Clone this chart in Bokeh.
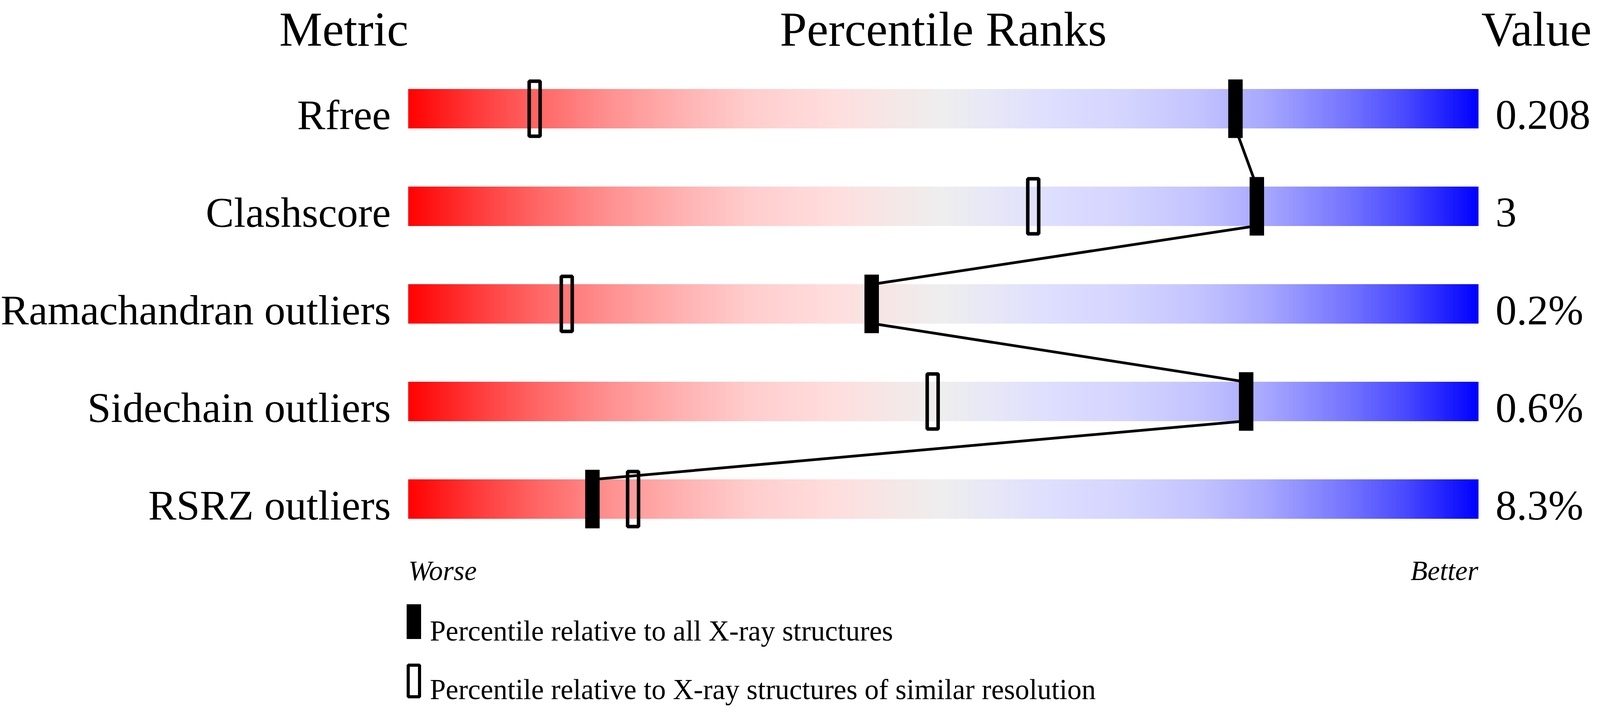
from bokeh.plotting import figure
from bokeh.models import Range1d
from bokeh.embed import file_html
from bokeh.resources import INLINE
from bokeh.core.properties import value

# ---------------- data ----------------
metrics = ["Rfree", "Clashscore", "Ramachandran outliers", "Sidechain outliers", "RSRZ outliers"]
value_labels = ["0.208", "3", "0.2%", "0.6%", "8.3%"]
pct_all_xray = [77.3, 79.3, 43.3, 78.3, 17.2]          # filled markers
pct_similar_res = [11.8, 58.4, 14.8, 49.0, 21.0]       # open markers
legend_labels = ["Percentile relative to all X-ray structures",
                 "Percentile relative to X-ray structures of similar resolution"]
header_labels = ["Metric", "Percentile Ranks", "Value"]
axis_end_labels = ["Worse", "Better"]

# gradient colour stops (style)
grad_stops = [(0, (255, 0, 0)), (6, (255, 55, 55)), (12.5, (255, 105, 105)), (19, (255, 145, 145)),
              (25, (255, 175, 175)), (32, (255, 205, 205)), (40, (255, 222, 222)), (46, (244, 232, 232)),
              (50, (238, 238, 238)), (54, (232, 232, 246)), (60, (222, 222, 255)), (67, (212, 212, 255)),
              (74, (195, 195, 255)), (80, (168, 168, 255)), (87.5, (118, 118, 255)), (93, (75, 75, 255)),
              (100, (0, 0, 255))]

# the browser viewport is 4096 px wide: horizontal layout scaled to it
W, H = 4080, 1808
X0 = 1045.0                 # pixel of percentile 0
PX_PER_PCT = 27.39          # pixels per percentile point
Y0 = 278.0                  # pixel of first row centre
ROW = 250.0                 # pixels per row
FONT = "Liberation Serif"

# empirical correction of text baseline placement (pixels, upward)
SHIFT_BIG = 37
SHIFT_MID = 34
SHIFT_SMALL = 16

p = figure(width=W, height=H, output_backend="svg", toolbar_location=None,
           x_axis_type=None, y_axis_type=None, min_border=0,
           x_range=Range1d(-X0 / PX_PER_PCT, (W - X0) / PX_PER_PCT),
           y_range=Range1d((H - Y0) / ROW, -Y0 / ROW))
p.outline_line_color = None
p.background_fill_color = "white"
p.border_fill_color = "white"

def interp_color(t):
    for (a, ca), (b, cb) in zip(grad_stops[:-1], grad_stops[1:]):
        if a <= t <= b:
            f = (t - a) / (b - a) if b > a else 0
            c = [round(ca[k] + (cb[k] - ca[k]) * f) for k in range(3)]
            return "#%02x%02x%02x" % tuple(c)
    return "#0000ff"

# ---------------- gradient bars ----------------
n_stripes = 300
step = 100.0 / n_stripes
L, R, T, B, C = [], [], [], [], []
half = 50.0 / ROW
for i in range(len(metrics)):
    for s in range(n_stripes):
        l = s * step
        L.append(l); R.append(l + step)
        T.append(i - half); B.append(i + half)
        C.append(interp_color(l + step / 2))
p.quad(left=L, right=R, top=T, bottom=B, fill_color=C, line_color=C, line_width=1)

# ---------------- connecting line ----------------
x0s = pct_all_xray[:-1]
x1s = pct_all_xray[1:]
y0s = [i + half for i in range(len(metrics) - 1)]
y1s = [i + 1 - half for i in range(len(metrics) - 1)]
p.segment(x0=x0s, y0=y0s, x1=x1s, y1=y1s, line_color="black", line_width=7)

rows = list(range(len(metrics)))
# open markers
p.rect(x=pct_similar_res, y=rows, width=28, height=141, width_units="screen", height_units="screen",
       fill_alpha=0, line_color="black", line_width=9)
# filled markers
p.rect(x=pct_all_xray, y=rows, width=37, height=150, width_units="screen", height_units="screen",
       fill_color="black", line_color=None)

# ---------------- texts ----------------
def px_to_x(px):
    return (px - X0) / PX_PER_PCT

def px_to_y(px):
    return (px - Y0) / ROW

# headers
title_y = px_to_y(112 - SHIFT_BIG)
p.text(x=[0], y=[title_y], text=[header_labels[0]], text_align="right", text_baseline="alphabetic",
       text_font=value(FONT), text_font_size="124px", text_color="black")
p.text(x=[50], y=[title_y], text=[header_labels[1]], text_align="center", text_baseline="alphabetic",
       text_font=value(FONT), text_font_size="124px", text_color="black")
p.text(x=[px_to_x(4074)], y=[title_y], text=[header_labels[2]], text_align="right", text_baseline="alphabetic",
       text_font=value(FONT), text_font_size="124px", text_color="black")

# row labels and values (baseline on the bar's lower edge)
lab_y = [r + half - SHIFT_MID / ROW for r in rows]
p.text(x=[px_to_x(1000)] * len(metrics), y=lab_y, text=metrics,
       text_align="right", text_baseline="alphabetic",
       text_font=value(FONT), text_font_size="108px", text_color="black")
p.text(x=[px_to_x(3828)] * len(metrics), y=lab_y, text=value_labels,
       text_align="left", text_baseline="alphabetic",
       text_font=value(FONT), text_font_size="108px", text_color="black")

# Worse / Better
we_y = px_to_y(1477 - SHIFT_SMALL)
p.text(x=[0], y=[we_y], text=[axis_end_labels[0]], text_align="left", text_baseline="alphabetic",
       text_font=value(FONT), text_font_style="italic", text_font_size="71px", text_color="black")
p.text(x=[100], y=[we_y], text=[axis_end_labels[1]], text_align="right", text_baseline="alphabetic",
       text_font=value(FONT), text_font_style="italic", text_font_size="71px", text_color="black")

# legend
lx = px_to_x(1059)
p.rect(x=[lx], y=[px_to_y(1592)], width=37, height=89, width_units="screen", height_units="screen",
       fill_color="black", line_color=None)
p.rect(x=[lx], y=[px_to_y(1744)], width=29, height=81, width_units="screen", height_units="screen",
       fill_alpha=0, line_color="black", line_width=8)
p.text(x=[px_to_x(1100)] * 2, y=[px_to_y(1632 - SHIFT_SMALL), px_to_y(1782 - SHIFT_SMALL)], text=legend_labels,
       text_align="left", text_baseline="alphabetic",
       text_font=value(FONT), text_font_size="73px", text_color="black")

open("out.html", "w").write(file_html(p, INLINE))
